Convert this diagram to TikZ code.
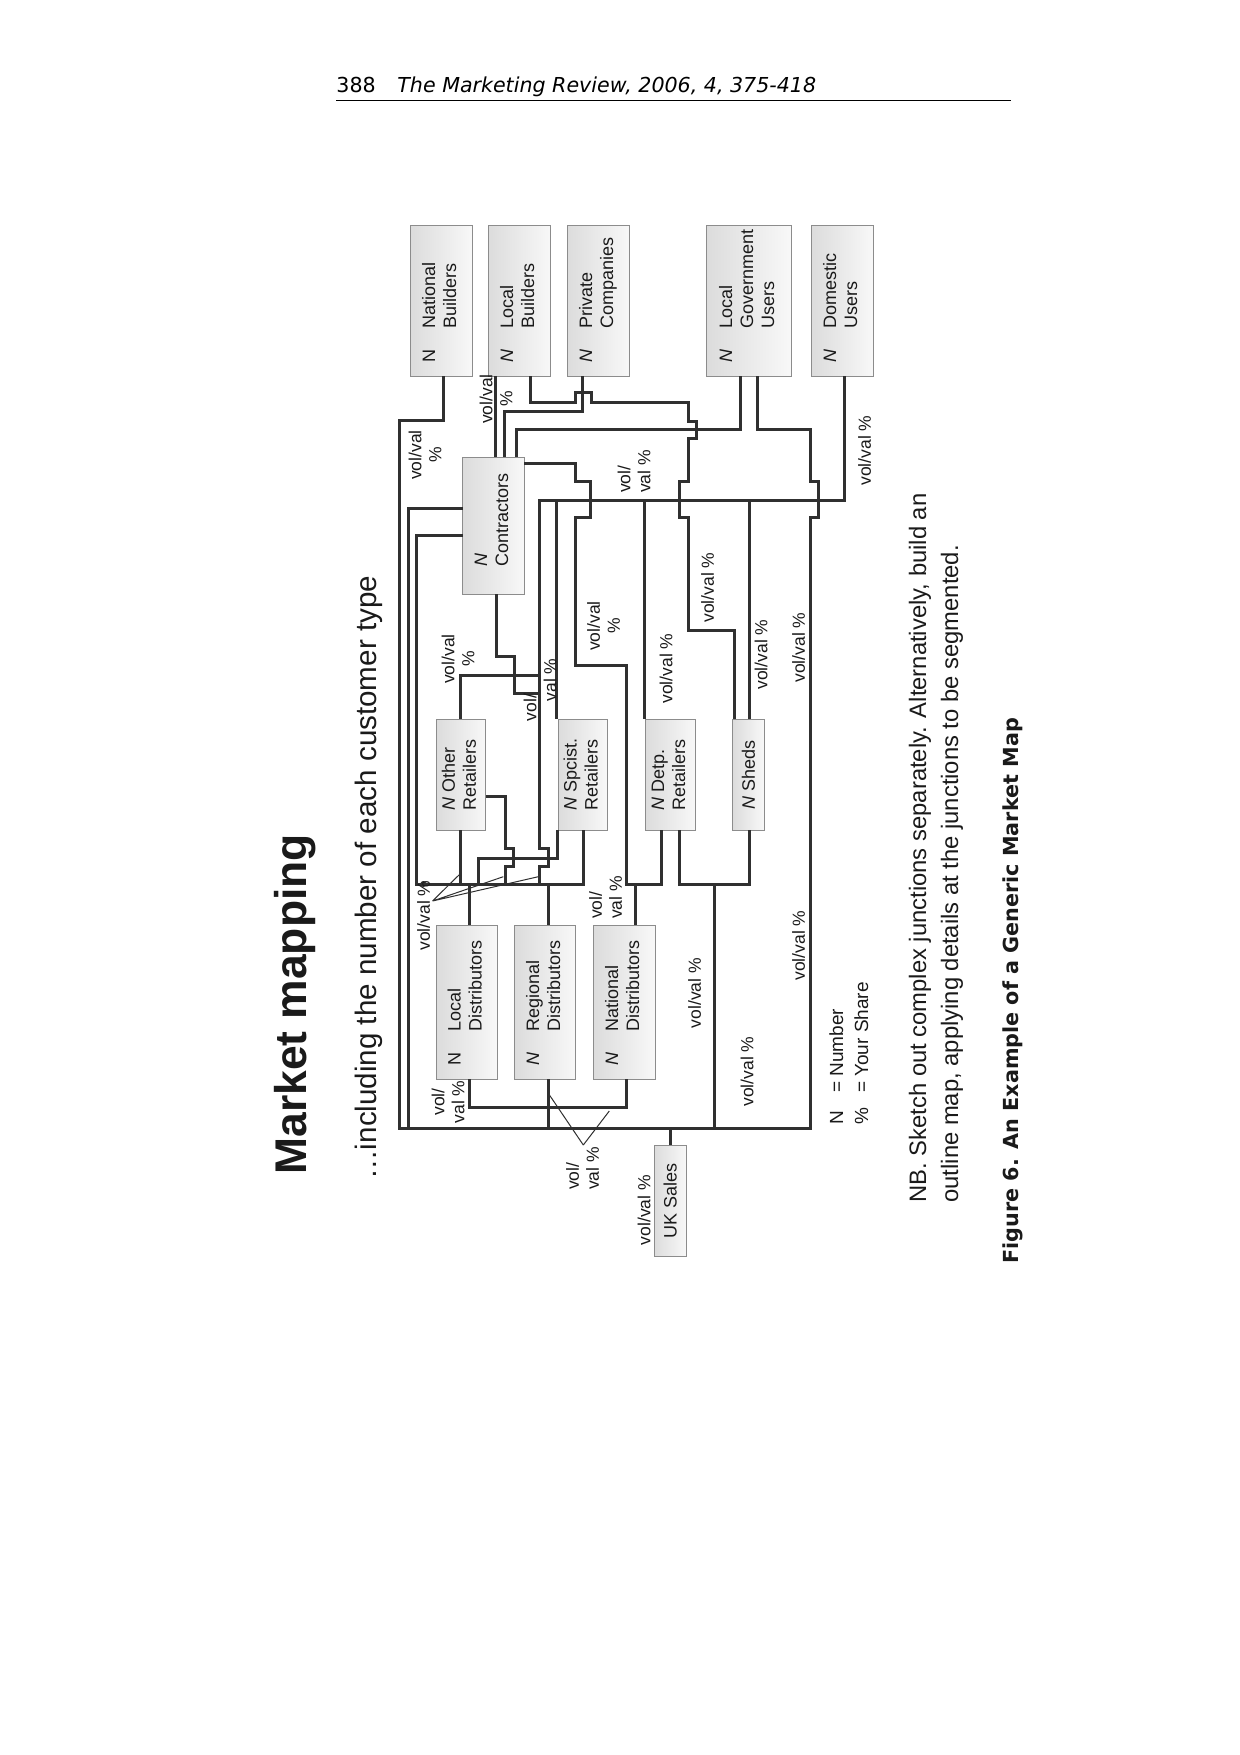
\documentclass[tikz,border=0pt]{standalone}
\usepackage{fontspec}
\usepackage{graphicx}
\setmainfont{Liberation Sans}
\newfontfamily\dejavu{DejaVu Sans}
\definecolor{wirec}{HTML}{303030}
\definecolor{boxl}{HTML}{DCDCDC}
\definecolor{boxr}{HTML}{F8F8F8}
\definecolor{boxd}{HTML}{8C8C8C}
\definecolor{txt}{HTML}{1A1A1A}
\newcommand\bxt[2]{\rotatebox{90}{\makebox[#1][l]{#2}}}
\newcommand\ntab[1]{\begin{tabular}{@{}l@{\hspace{10.5pt}}l@{}}#1\end{tabular}}
\begin{document}
\begin{tikzpicture}[x=0.5pt,y=-0.5pt,
  wire/.style={draw=wirec, line width=1.5pt},
  lead/.style={draw=wirec, line width=0.5pt},
  mbox/.style={draw=boxd, line width=0.5pt, left color=boxl, right color=boxr, inner sep=0pt, outer sep=0pt, text=txt, font=\fontsize{9}{10.5}\selectfont},
  lbl/.style={rotate=90, inner sep=0pt, text=txt, font=\fontsize{8.75}{10}\selectfont, align=center},
  lbll/.style={lbl, align=left},
  rtxt/.style={rotate=90, anchor=base west, inner sep=0pt, text=txt}]
\fill[white] (0,0) rectangle (1240,1755);
\path[use as bounding box] (0,0) rectangle (1240,1755);

% header
\node[anchor=base west, inner sep=0pt, font=\dejavu\fontsize{10.3}{12}\selectfont] (pg) at (336,93) {388};
\node[anchor=base west, inner sep=0pt, font=\dejavu\itshape\fontsize{10.3}{12}\selectfont] (jt) at (397,93) {The Marketing Review, 2006, 4, 375-418};
\draw[line width=0.6pt] (336,100.7) -- (1011,100.7);

% titles
\node[rtxt, font=\fontsize{22.2}{26}\selectfont\bfseries] (title) at (306,1175) {Market mapping};
\node[rtxt, font=\fontsize{14.8}{17}\selectfont] (sub) at (376,1180) {…including the number of each customer type};

% boxes
\node[mbox, minimum width=30.65pt, minimum height=75.35pt] (nb) at (441.4,300.7) {\bxt{62pt}{\ntab{N & National\\ & Builders}}};
\node[mbox, minimum width=30.8pt, minimum height=75.35pt] (lb) at (519.5,300.7) {\bxt{62pt}{\ntab{\textit{N} & Local\\ & Builders}}};
\node[mbox, minimum width=31pt, minimum height=75.35pt] (pc) at (598.3,300.7) {\bxt{62pt}{\ntab{\textit{N} & Private\\ & Companies}}};
\node[mbox, minimum width=42.3pt, minimum height=75.35pt] (lg) at (749,300.7) {\bxt{62pt}{\ntab{\textit{N} & Local\\ & Government\\ & Users}}};
\node[mbox, minimum width=30.8pt, minimum height=75.35pt] (du) at (842.5,300.7) {\bxt{62pt}{\ntab{\textit{N} & Domestic\\ & Users}}};
\node[mbox, minimum width=30.8pt, minimum height=68.35pt] (co) at (493.5,525.7) {\bxt{41pt}{\begin{tabular}{@{}l@{}}\textit{N}\\Contractors\end{tabular}}};
\node[mbox, minimum width=24.5pt, minimum height=55.35pt] (or) at (461.2,774.7) {\rotatebox{90}{\begin{tabular}{@{}l@{}}\textit{N} Other\\Retailers\end{tabular}}};
\node[mbox, minimum width=24.5pt, minimum height=55.35pt] (sr) at (582.8,774.7) {\rotatebox{90}{\begin{tabular}{@{}l@{}}\textit{N} Spcist.\\Retailers\end{tabular}}};
\node[mbox, minimum width=25.2pt, minimum height=55.35pt] (dr) at (670.5,774.7) {\rotatebox{90}{\begin{tabular}{@{}l@{}}\textit{N} Detp.\\Retailers\end{tabular}}};
\node[mbox, minimum width=15.8pt, minimum height=55.35pt] (sh) at (748.5,774.7) {\rotatebox{90}{\textit{N} Sheds}};
\node[mbox, minimum width=30.3pt, minimum height=77.15pt] (ld) at (467,1002.2) {\bxt{63pt}{\ntab{N & Local\\ & Distributors}}};
\node[mbox, minimum width=30.65pt, minimum height=77.15pt] (rd) at (545.3,1002.2) {\bxt{63pt}{\ntab{\textit{N} & Regional\\ & Distributors}}};
\node[mbox, minimum width=30.8pt, minimum height=77.15pt] (nd) at (624.5,1002.2) {\bxt{63pt}{\ntab{\textit{N} & National\\ & Distributors}}};
\node[mbox, minimum width=15.85pt, minimum height=55.35pt] (uk) at (670.2,1200.7) {\rotatebox{90}{UK Sales}};

% wires
\draw[wire] (nb.south -| 443.3,0) -- (443.3,420.7) -- (399.3,420.7) -- (399.3,1128) -- (810.7,1128) -- (810.7,517.3) -- (818,517.3) -- (818,481.7) -- (810.7,481.7) -- (810.7,429.3) -- (757.7,429.3) -- (lg.south -| 757.7,0);
\draw[wire] (co.west |- 0,508.3) -- (408,508.3) -- (408,1128);
\draw[wire] (co.west |- 0,535) -- (416.7,535) -- (416.7,884) -- (583.3,884) -- (sr.south -| 583.3,0);
\draw[wire] (lb.south -| 495.3,0) -- (co.north -| 495.3,0);
\draw[wire] (pc.south -| 582.7,0) -- (582.7,411.7) -- (504,411.7) -- (co.north -| 504,0);
\draw[wire] (lg.south -| 740.7,0) -- (740.7,429.3) -- (516,429.3) -- (co.north -| 516,0);
\draw[wire] (lb.south -| 530,0) -- (530,402.7) -- (575,402.7) -- (575,392.7) -- (591.7,392.7) -- (591.7,402.7) -- (688,402.7) -- (688,421.7) -- (696.7,421.7) -- (696.7,438.3) -- (688,438.3) -- (688,481.7) -- (679,481.7) -- (679,517.3) -- (688,517.3) -- (688,630) -- (734,630) -- (sh.north -| 734,0);
\draw[wire] (du.south -| 844.3,0) -- (844.3,500) -- (539,500) -- (539,675) -- (460.7,675) -- (or.north -| 460.7,0);
\draw[wire] (556.5,500) -- (sr.north -| 556.5,0);
\draw[wire] (644,500) -- (dr.north -| 644,0);
\draw[wire] (749,500) -- (sh.north -| 749,0);
\draw[wire] (co.east |- 0,463.3) -- (575,463.3) -- (575,481.7) -- (590,481.7) -- (590,517.3) -- (575,517.3) -- (575,665) -- (626.7,665) -- (626.7,884) -- (661,884) -- (dr.south -| 661,0);
\draw[wire] (635,884) -- (nd.north -| 635,0);
\draw[wire] (co.south -| 496,0) -- (496,656.7) -- (514,656.7) -- (514,693.3) -- (539,693.3) -- (539,848.3) -- (548.3,848.3) -- (548.3,866.7) -- (539,866.7) -- (539,884);
\draw[wire] (539,675) -- (539,693.3);
\draw[wire] (or.east |- 0,796.7) -- (505,796.7) -- (505,848.3) -- (513.3,848.3) -- (513.3,866.7) -- (505,866.7) -- (505,884);
\draw[wire] (sr.south -| 557,0) -- (557,858.3) -- (478.3,858.3) -- (478.3,884);
\draw[wire] (or.south -| 460.7,0) -- (460.7,884);
\draw[wire] (469.3,884) -- (ld.north -| 469.3,0);
\draw[wire] (548.3,884) -- (rd.north -| 548.3,0);
\draw[wire] (rd.south -| 548.3,0) -- (548.3,1128);
\draw[wire] (ld.south -| 469.3,0) -- (469.3,1107) -- (626.7,1107) -- (nd.south -| 626.7,0);
\draw[wire] (dr.south -| 679,0) -- (679,884) -- (749,884) -- (sh.south -| 749,0);
\draw[wire] (714,884) -- (714,1128);
\draw[wire] (uk.north -| 670.7,0) -- (670.7,1128);
\fill[wirec] (423.3,884) circle[radius=1.5pt];

% leaders
\coordinate (j1) at (432.5,901);
\draw[lead] (j1) -- (460.7,873.3) (j1) -- (503.3,876.7) (j1) -- (538.3,876.7);
\coordinate (j2) at (583.3,1145);
\draw[lead] (j2) -- (548.3,1093.3) (j2) -- (609.3,1111);

% labels
\node[lbl] (l1) at (425,455) {vol/val\\\%};
\node[lbl] (l2) at (496,399) {vol/val\\\%};
\node[lbll] (l3) at (634,471.5) {vol/\\val \%};
\node[lbl] (l4) at (864.5,450.5) {vol/val \%};
\node[lbl] (l5) at (603.5,626) {vol/val\\\%};
\node[lbl] (l6) at (458,659) {vol/val\\\%};
\node[lbl] (l7a) at (530,707.5) {vol/};
\node[lbl] (l7b) at (550,680) {val \%};
\node[lbl] (l8) at (707.5,587.5) {vol/val \%};
\node[lbl] (l9) at (761,654.5) {vol/val \%};
\node[lbl] (l10) at (798.5,647.5) {vol/val \%};
\node[lbl] (l11) at (666,668.5) {vol/val \%};
\node[lbl] (l12) at (423.5,915.5) {vol/val \%};
\node[lbll] (l13) at (605.5,897.5) {vol/\\val \%};
\node[lbl] (l14) at (694.5,993) {vol/val \%};
\node[lbl] (l15) at (747,1071.5) {vol/val \%};
\node[lbl] (l16) at (798.5,945.5) {vol/val \%};
\node[lbl] (l17) at (448,1102) {vol/\\val \%};
\node[lbll] (l18) at (582.5,1168.5) {vol/\\val \%};
\node[lbl] (l19) at (644,1210) {vol/val \%};

% legend
\node[rtxt, font=\fontsize{9.5}{11}\selectfont] (key1) at (843,1125) {\makebox[16pt][l]{N}\makebox[8pt][l]{=}Number};
\node[rtxt, font=\fontsize{9.5}{11}\selectfont] (key2) at (868,1125) {\makebox[16pt][l]{\%}\makebox[8pt][l]{=}Your Share};

% note and caption
\node[rtxt, font=\fontsize{11.9}{14}\selectfont] (note1) at (926,1203) {NB. Sketch out complex junctions separately. Alternatively, build an};
\node[rtxt, font=\fontsize{11.9}{14}\selectfont] (note2) at (958,1203) {outline map, applying details at the junctions to be segmented.};
\node[rtxt, font=\dejavu\bfseries\fontsize{10.36}{12}\selectfont] (cap) at (1018,1264) {Figure 6. An Example of a Generic Market Map};
\end{tikzpicture}
\end{document}
